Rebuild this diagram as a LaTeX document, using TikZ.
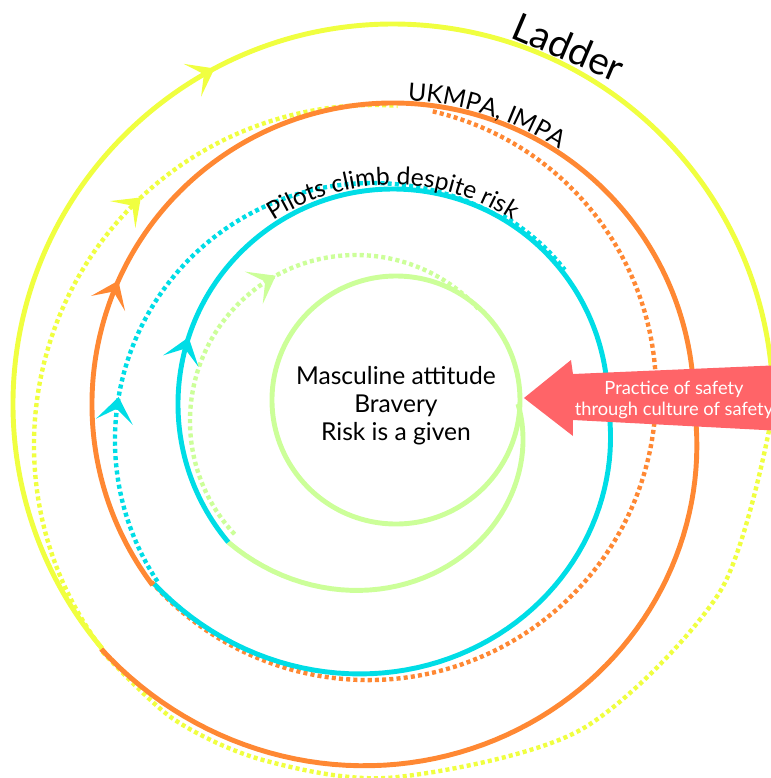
\documentclass[tikz,border=0pt]{standalone}
\usepackage{fontspec}
\setmainfont{Lato}
\usetikzlibrary{arrows.meta, decorations.markings, decorations.text}
\definecolor{ringgreen}{RGB}{204,255,153}
\definecolor{ringcyan}{RGB}{0,221,230}
\definecolor{ringorange}{RGB}{255,136,51}
\definecolor{ringyellow}{RGB}{240,255,64}
\definecolor{safetyred}{RGB}{255,100,104}

\begin{document}
\begin{tikzpicture}[
    solid_ring/.style={line width=1.4pt},
    dotted_ring/.style={line width=1.25pt, dash pattern=on 1.15pt off 0.9pt},
    flow/.style={postaction={decorate, decoration={markings, mark=at position #1 with {\arrow{Stealth[length=2.5mm, width=3.7mm, inset=1.3mm]}}}}},
    lbl/.style={font=\fontsize{7}{8}\selectfont, align=center},
    ringtext/.style={decorate, decoration={text along path, text align=center, text={|\fontsize{7}{8}\selectfont|#1}}}
]
\useasboundingbox (-3.93,-3.74) rectangle (3.78,4.04);
\coordinate (hub) at (0,0);

\draw[dotted_ring, ringgreen, flow=0.575, shift={(-0.37,-0.17)}] (-137:1.66) arc[start angle=-137, end angle=-318, radius=1.66];
\draw[dotted_ring, ringcyan, flow=0.28, shift={(-0.21,-0.36)}] (-146.6:2.57) arc[start angle=-146.6, end angle=-300.3, radius=2.57];
\draw[dotted_ring, ringcyan] (-300.3:2.18) arc[start angle=-300.3, end angle=-322, radius=2.18];
\draw[dotted_ring, ringorange, shift={(-0.25,0.12)}] (-283:2.88) arc[start angle=-283, end angle=-499, radius=2.88];
\draw[dotted_ring, ringyellow] plot[smooth] coordinates {(-4:3.77) (-30:3.77) (-60:3.76) (-90:3.735) (-110:3.79) (-125:3.84) (-140:3.82)};
\draw[dotted_ring, ringyellow, flow=0.64, shift={(-0.19,-0.41)}] (-142.7:3.40) arc[start angle=-142.7, end angle=-274, radius=3.40];

\draw[solid_ring, ringgreen] (0.03,0.04) circle[radius=1.24];
\draw[solid_ring, ringgreen] plot[domain=0:140, samples=50, variable=\p] ({-\p}:{1.25+0.90*\p/140});
\draw[solid_ring, ringcyan, flow=0.264] (-140:2.15) arc[start angle=-140, end angle=-360, radius=2.15];
\draw[solid_ring, ringcyan] plot[domain=0:143, samples=60, variable=\p] ({-\p}:{2.15+0.84*\p/143});
\draw[solid_ring, ringorange, flow=0.282] (-143:3.01) arc[start angle=-143, end angle=-360, radius=3.01];
\draw[solid_ring, ringorange] plot[domain=0:140, samples=70, variable=\p] ({-\p}:{3.01+0.8*(0.5*\p/140+0.5*sin(90*\p/140))});
\draw[solid_ring, ringyellow, flow=0.47] (-140:3.80) arc[start angle=-140, end angle=-357, radius=3.80];

\path[ringtext={Pilots climb despite risk}] (150:2.19) arc[start angle=150, end angle=30, radius=2.19];
\path[ringtext={UKMPA, IMPA}] (110:3.04) arc[start angle=110, end angle=34, radius=3.04];
\node[font=\fontsize{11}{13}\selectfont, rotate=-23, anchor=base] (ladder) at (1.70,3.44) {Ladder};

\node[lbl] (core) at (0.03,-0.02) {Masculine attitude\\Bravery\\Risk is a given};

\fill[safetyred] (1.31,0.06) -- (1.78,0.44) -- (1.80,0.30) -- (3.90,0.39) -- (3.90,-0.27) -- (1.80,-0.16) -- (1.80,-0.32) -- cycle;
\node[font=\fontsize{5.2}{6}\selectfont, text=white, align=center] (practice) at (2.81,0.04) {Practice of safety\\through culture of safety};

\end{tikzpicture}
\end{document}
